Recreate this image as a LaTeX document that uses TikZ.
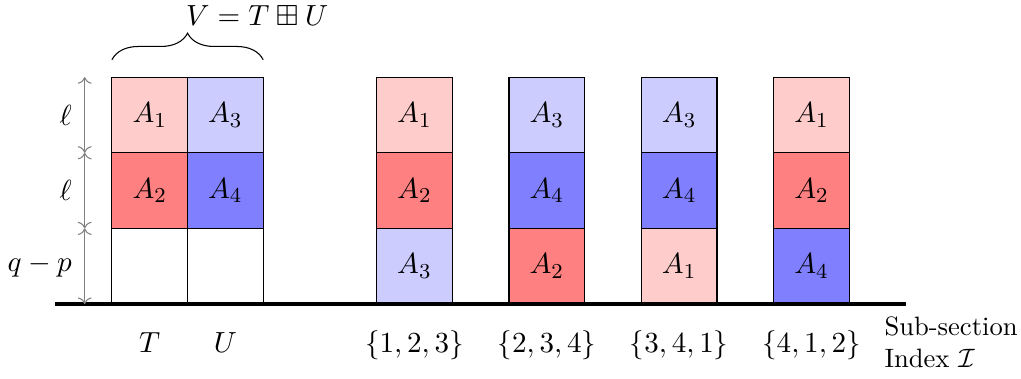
\documentclass[11pt,tikz,border=0pt]{standalone}
\usepackage{amsmath}
\usepackage{amssymb}
\usepackage{xcolor}
\usetikzlibrary{arrows.meta, positioning, decorations.pathreplacing}

\begin{document}
\begin{tikzpicture}[
    cell/.style={rectangle, draw=black, minimum width=1cm, minimum height=1cm, inner sep=0pt, outer sep=0pt},
    redlight/.style={cell, fill=red!20},
    reddark/.style={cell, fill=red!50},
    bluelight/.style={cell, fill=blue!20},
    bluedark/.style={cell, fill=blue!50},
    blank/.style={cell, fill=white},
    dim/.style={<->, draw=gray},
    axis/.style={very thick},
    collabel/.style={anchor=base},
]
\useasboundingbox (-1.48,-0.99) rectangle (12.02,4.02);

% Nodes — V = T (+) U
\node[blank] (T0) at (0.5,0.5) {};
\node[reddark, above=0pt of T0] (T2) {$A_2$};
\node[redlight, above=0pt of T2] (T1) {$A_1$};
\node[blank, right=0pt of T0] (U0) {};
\node[bluedark, above=0pt of U0] (U4) {$A_4$};
\node[bluelight, above=0pt of U4] (U3) {$A_3$};

% Nodes — sub-sections
\node[bluelight] (a3) at (4,0.5) {$A_3$};
\node[reddark, above=0pt of a3] (a2) {$A_2$};
\node[redlight, above=0pt of a2] (a1) {$A_1$};

\node[reddark] (b2) at (5.75,0.5) {$A_2$};
\node[bluedark, above=0pt of b2] (b4) {$A_4$};
\node[bluelight, above=0pt of b4] (b3) {$A_3$};

\node[redlight] (c1) at (7.5,0.5) {$A_1$};
\node[bluedark, above=0pt of c1] (c4) {$A_4$};
\node[bluelight, above=0pt of c4] (c3) {$A_3$};

\node[bluedark] (d4) at (9.25,0.5) {$A_4$};
\node[reddark, above=0pt of d4] (d2) {$A_2$};
\node[redlight, above=0pt of d2] (d1) {$A_1$};

% Axis
\coordinate (axisL) at (-0.75,0);
\coordinate (axisR) at (10.5,0);
\draw[axis] (axisL) -- (axisR);

% Labels under the columns
\node[collabel] (lT) at (0.5,-0.635) {$T$};
\node[collabel] (lU) at (1.5,-0.635) {$U$};
\node[collabel] (la) at (4,-0.635) {$\{1,2,3\}$};
\node[collabel] (lb) at (5.75,-0.635) {$\{2,3,4\}$};
\node[collabel] (lc) at (7.5,-0.635) {$\{3,4,1\}$};
\node[collabel] (ld) at (9.25,-0.635) {$\{4,1,2\}$};
\node[anchor=west, align=left, font=\small] (idx) at (10.08,-0.5) {Sub-section\\Index $\mathcal{I}$};

% Dimensions
\coordinate (h0) at (-0.36,0);
\coordinate (h1) at (-0.36,1);
\coordinate (h2) at (-0.36,2);
\coordinate (h3) at (-0.36,3);
\draw[dim] (h0) -- node[left=1pt] {$q-p$} (h1);
\draw[dim] (h1) -- node[left=1pt] {$\ell$} (h2);
\draw[dim] (h2) -- node[left=1pt] {$\ell$} (h3);

% Brace
\coordinate (braceL) at (0,3.23);
\coordinate (braceR) at (2,3.23);
\draw[decorate, decoration={brace, amplitude=10pt}] (braceL) -- (braceR);
\node (vlabel) at (1.92,3.81) {$V = T \boxplus U$};

\end{tikzpicture}
\end{document}
